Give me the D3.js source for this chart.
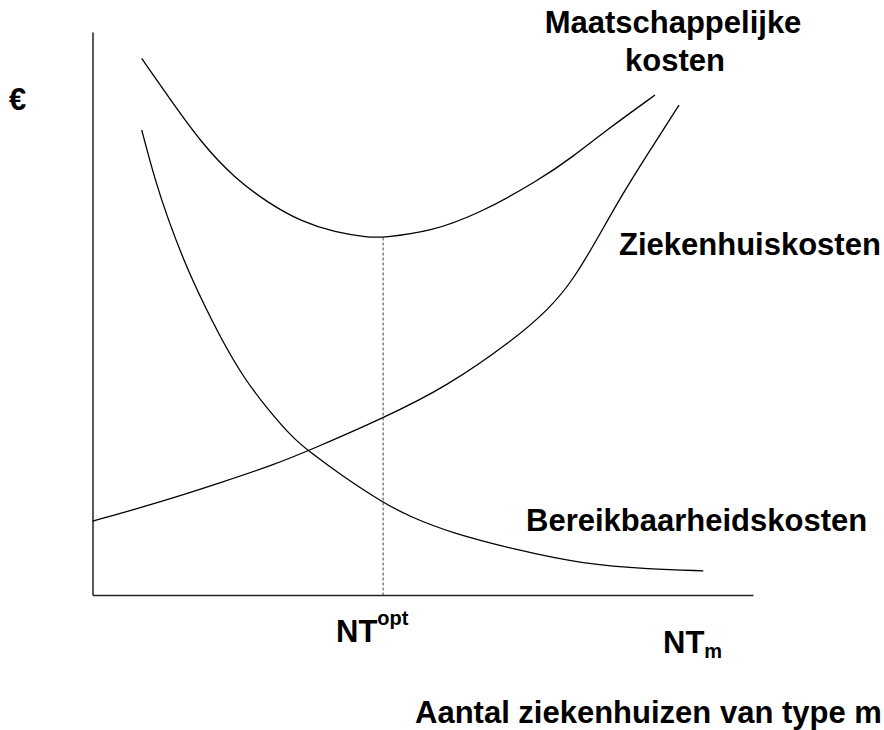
<!DOCTYPE html>
<html>
<head>
<meta charset="utf-8">
<script src="https://cdn.jsdelivr.net/npm/d3@7"></script>
<style>
  body { margin: 0; background: #fff; }
  text { font-family: "Liberation Sans", Arial, sans-serif; font-weight: bold; fill: #000; }
  .curve { fill: none; stroke: #000; stroke-width: 1.3; }
  .domain { stroke: #222; stroke-width: 1.5; }
</style>
</head>
<body>
<svg width="884" height="730"></svg>
<script>
// values (x: 0-100 along NT axis, y: 0-100 cost)
const maatX = [7.45, 11.48, 16.53, 21.57, 26.62, 31.67, 36.71, 41.76, 44.0, 51.1, 58.67, 67.75, 72.79, 77.85, 85.16];
const maatY = [95.3, 88.5, 80.2, 74.0, 69.6, 66.3, 64.4, 63.5, 63.5, 64.5, 67.8, 73.8, 77.9, 82.6, 88.8];

const zhX = [0, 9.72, 19.8, 27.37, 32.67, 44.0, 53.63, 63.71, 68.96, 72.75, 76.34, 80.32, 84.41, 88.8];
const zhY = [13.1, 16.3, 20.1, 23.1, 25.6, 31.4, 37.0, 45.3, 50.6, 55.9, 63.1, 71.4, 79.0, 87.0];

const berX = [7.45, 9.46, 11.48, 14.0, 16.53, 19.56, 23.09, 26.62, 30.16, 32.67, 37.97, 44.0, 48.07, 54.13, 64.22, 74.31, 84.4, 92.48];
const berY = [82.6, 73.7, 66.6, 58.9, 52.4, 45.3, 38.2, 32.9, 28.1, 25.6, 21.0, 16.4, 13.9, 11.1, 8.0, 5.5, 4.6, 4.3];

const optX = 44.0;
const optY = 63.5;

const zip = (xs, ys) => xs.map((d, i) => ({ x: d, y: ys[i] }));

const svg = d3.select('svg');

const x = d3.scaleLinear().domain([0, 100]).range([92.5, 753]);
const y = d3.scaleLinear().domain([0, 100]).range([595, 32]);

svg.append('g')
  .attr('transform', `translate(0,${y(0)})`)
  .call(d3.axisBottom(x).tickValues([]).tickSizeOuter(0));

svg.append('g')
  .attr('transform', `translate(${x(0)},0)`)
  .call(d3.axisLeft(y).tickValues([]).tickSizeOuter(0));

// basis spline smooths out small reading errors
const line = d3.line()
  .x(d => x(d.x))
  .y(d => y(d.y))
  .curve(d3.curveBasis);

// dropline at the optimum
svg.append('line')
  .attr('x1', x(optX)).attr('x2', x(optX))
  .attr('y1', y(optY)).attr('y2', y(0))
  .attr('stroke', '#444')
  .attr('stroke-width', 1)
  .attr('stroke-dasharray', '3,2');

svg.selectAll('path.curve')
  .data([zip(maatX, maatY), zip(zhX, zhY), zip(berX, berY)])
  .enter().append('path')
  .attr('class', 'curve')
  .attr('d', line);

// labels
svg.append('text').attr('x', 9).attr('y', 110).style('font-size', '31px').text('€');

svg.append('text').attr('x', 673).attr('y', 33).attr('text-anchor', 'middle')
  .style('font-size', '31px').text('Maatschappelijke');
svg.append('text').attr('x', 675).attr('y', 71).attr('text-anchor', 'middle')
  .style('font-size', '31px').text('kosten');

svg.append('text').attr('x', 619).attr('y', 255).style('font-size', '31px').text('Ziekenhuiskosten');
svg.append('text').attr('x', 526).attr('y', 531).style('font-size', '31px').text('Bereikbaarheidskosten');

const opt = svg.append('text').attr('x', 336).attr('y', 642).style('font-size', '31px');
opt.append('tspan').text('NT');
opt.append('tspan').attr('dy', -17).style('font-size', '20px').text('opt');

const ntm = svg.append('text').attr('x', 663).attr('y', 653).style('font-size', '31px');
ntm.append('tspan').text('NT');
ntm.append('tspan').attr('dy', 5).style('font-size', '20px').text('m');

svg.append('text').attr('x', 415).attr('y', 723).style('font-size', '31px')
  .text('Aantal ziekenhuizen van type m');
</script>
</body>
</html>
